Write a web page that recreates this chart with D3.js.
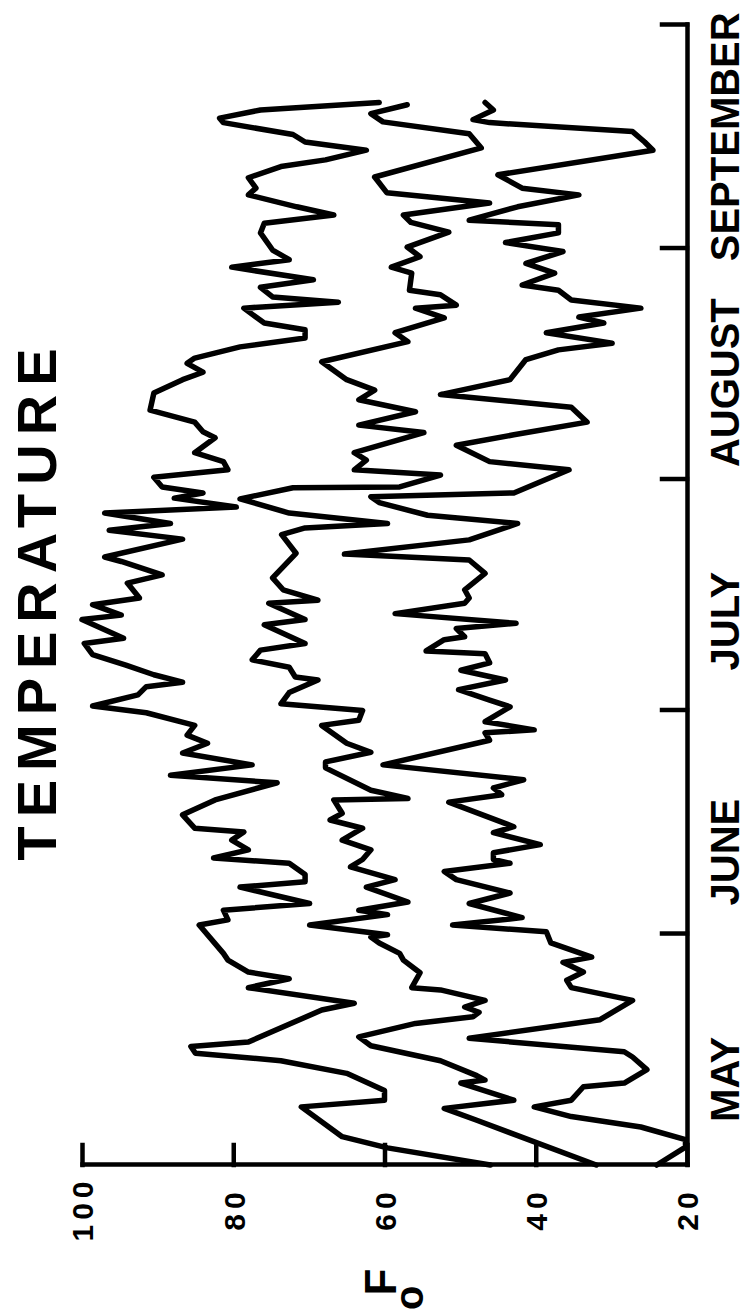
<!DOCTYPE html>
<html>
<head>
<meta charset="utf-8">
<script src="https://cdn.jsdelivr.net/npm/d3@7"></script>
<style>
body { margin: 0; background: #fff; }
text { font-family: "Liberation Sans", Arial, sans-serif; font-weight: bold; fill: #000; }
</style>
</head>
<body>
<div id="chart"></div>
<script>
// daily temperatures: [days since May 1, deg F]
var highTemps = [[0,46],[2.3,59.6],[3.8,65.6],[7.8,71],[8.7,60],[10,60],[12.3,65],[14,73.7],[15,85],[15.9,85.6],[16.5,78],[20.8,68.3],[21.7,64],[23.8,78],[25,72.6],[25.9,78],[27.5,80.7],[28.4,81.3],[32.2,84.5],[32.9,80.7],[34.2,81.3],[35.1,69.9],[37.3,79.1],[38,70.5],[39,70.5],[40.5,72.6],[41.2,82.6],[42.3,78],[43.6,80.2],[44.7,78.6],[45.2,85.1],[47,86.7],[49,82.4],[51.3,74.2],[52.3,88.3],[53.7,77.5],[55.3,86.7],[56.6,83.4],[57.7,86.1],[59,85.1],[60.7,91.5],[61.6,98.6],[63.1,92.6],[64.2,91.5],[64.8,86.7],[65.8,90.5],[67.1,94.2],[68.5,98.6],[70,99.7],[70.7,94.5],[73.2,100],[73.8,94.8],[75.2,98.6],[76.1,92.4],[78.1,94],[79.2,89.4],[81,94.8],[81.6,97],[84,86.7],[85.2,96.4],[86.1,88.3],[87.5,97],[88.3,79.6],[89.5,87.8],[90.2,84],[91,89.4],[92.3,90.5],[93.3,80.7],[94.4,81.3],[95.6,85.1],[97.6,82.4],[98.4,84],[99.7,85.1],[101.3,91],[103.6,90.5],[105.4,86.7],[106.4,84],[107.6,86.1],[108.3,85.1],[109.8,79.1],[111,70.5],[112.1,70.5],[113,75.9],[113.8,77],[115,78.6],[115.8,66.1],[116.5,74.8],[117.8,76.4],[118.8,69.4],[120.5,80.2],[121.5,72.6],[122.8,74.8],[125.1,76.4],[126.4,75.9],[127.5,66.7],[128.6,71.6],[130.2,78],[131.1,77],[132.5,78],[134,73.7],[134.9,67.8],[136.2,62.4],[137.3,70.5],[138.3,72.1],[139.9,81.3],[140.5,81.8],[141.6,76.4],[142.6,60.7]];

var meanTemps = [[0,32],[6,47.8],[7.6,52.1],[8.7,42.9],[11,49.9],[11.4,46.7],[12,47.8],[14,52.6],[16,61.8],[17.2,63.4],[19,55.9],[19.9,48.3],[20.5,47.5],[21.2,49.4],[22.1,46.7],[23.5,52.6],[23.8,56.4],[25.8,55.3],[27.5,57.5],[28.4,58],[29.8,60.7],[30.6,61.8],[30.9,59.6],[32.2,69.9],[33.6,59.6],[34.2,63.4],[35.3,56.9],[37.3,62.4],[38.3,58.6],[40,64.5],[41,62.9],[42.3,61.8],[43.6,65.6],[45.2,62.9],[46.3,67.2],[47.2,65.6],[49,66.7],[49.2,56.9],[50.3,61.8],[53.3,67.8],[54.1,67.8],[55.4,61.8],[56.6,65],[59,68.3],[59.7,63.4],[61,62.9],[61.9,73.7],[63.4,72.6],[65.1,68.8],[65.5,71.8],[66.8,72.6],[67.8,77.5],[69.1,76.4],[70,70.5],[72.5,75.9],[73.2,70.5],[75.4,75.3],[75.8,68.8],[77.2,73.4],[78.8,74.8],[82.1,71.7],[84.6,73.6],[85.5,70.5],[86.1,59.6],[87.5,72.6],[89.4,79.1],[90.9,72.1],[91,58],[92.6,52.6],[93.3,64],[94.6,62.4],[95.6,64],[98.3,54.8],[99.3,63.4],[101.1,55.9],[102.7,63.4],[104,61.3],[105.4,65],[107.8,68.3],[110.5,56.9],[111.7,58.6],[113.7,52.1],[115,55.9],[115.4,50.5],[116.8,52.6],[117.4,56.7],[119.7,56.4],[120.5,59.1],[121.9,55.3],[123.2,57],[125.2,51.5],[126.5,56.5],[127.5,57.5],[129.1,46.1],[130.5,59.7],[132.6,61.3],[136.5,47.2],[138.4,48.8],[140,60.2],[141.1,61.8],[142.3,57]];

var lowTemps = [[0,24],[2.4,20.2],[3.4,20.2],[5.1,26.1],[6.5,35.3],[7.8,40.2],[8.7,35.3],[10.5,33.7],[11,28.3],[12.8,25.3],[14.5,27.2],[15.2,28.3],[17,48.8],[19.5,31.5],[22.1,27.2],[23.8,35.3],[24.8,35.9],[25.9,33.7],[27.2,36.4],[27.9,32.6],[29.8,38],[31.3,38.6],[32.2,51],[33.2,41.8],[35.1,48.8],[36.5,43.4],[38.3,50.5],[39.4,52.1],[40.5,43.4],[41,45.6],[41.9,45.6],[43,39.4],[44.6,45.6],[45.4,42.9],[48.7,51.5],[49.7,44.5],[50.6,45.6],[51.7,41.6],[53.7,60.2],[57,46.1],[58,46.7],[58.4,40.2],[59.5,46.7],[61.5,43.4],[62.4,46.1],[63.8,50.2],[65.1,44],[66.4,49.9],[67.4,46.1],[68.6,46.7],[69,54.5],[70.5,52.1],[70.9,49.4],[72,50.5],[72.7,42.6],[74,58.6],[75.4,49.4],[76.1,48.8],[77.2,49.4],[79.4,46.7],[81.2,48.8],[82,65.3],[83.9,48.8],[86.1,42.4],[87.2,54.3],[88.9,60.7],[89.7,61.8],[90.2,42.9],[93.3,35.6],[94.4,46.1],[96.6,50.5],[98,42.9],[99.7,33.2],[101.7,35.3],[103.4,52.6],[105.4,43.4],[108.1,41.3],[109.4,37],[110.3,29.9],[111.7,38.6],[113,31],[113.8,34.3],[115,26.1],[116.1,35.3],[117.4,37],[118.1,41.8],[119.7,37.5],[121,41.3],[122.6,36.4],[123.8,44],[125.1,37],[126.2,37],[126.8,48.8],[128.6,42.4],[130.2,34.3],[131.1,41.8],[132.9,45],[136.2,24.5],[137.3,25.6],[138.7,27.2],[139.9,46.1],[140.3,48.3],[141.6,45.6],[142.6,46.7]];

var months = ["MAY", "JUNE", "JULY", "AUGUST", "SEPTEMBER"];
var monthStarts = [0, 31, 61, 92, 123, 153];
// where each month name sits along the time axis (days since May 1)
var monthLabelDays = [11.5, 42, 73, 105, 138];
var tempTicks = [20, 40, 60, 80, 100];

// the figure is printed sideways: draw it landscape, then turn it a quarter
var width = 1315, height = 746;

var svg = d3.select("#chart")
            .append("svg")
            .attr("width", height)
            .attr("height", width);

var g = svg.append("g")
           .attr("transform", "translate(0," + width + ") rotate(-90)");

var x = d3.scaleLinear().domain([0, 153]).range([150, 1290]);
var y = d3.scaleLinear().domain([20, 100]).range([687, 82]);

// temperature axis
var yAxis = g.append("g")
    .attr("transform", "translate(" + x(0) + ",0)")
    .call(d3.axisLeft(y).tickValues(tempTicks).tickSize(-20).tickSizeOuter(0).tickPadding(44));
yAxis.attr("font-size", null).attr("font-family", null);
yAxis.selectAll("text")
     .attr("text-anchor", "middle")
     .attr("font-size", 30)
     .attr("letter-spacing", 5)
     .attr("dy", "0.36em");

// time axis
var xAxis = g.append("g")
    .attr("transform", "translate(0," + y(20) + ")")
    .call(d3.axisBottom(x).tickValues(monthStarts.slice(1)).tickSize(-25).tickSizeOuter(0).tickFormat(""));

g.selectAll(".domain, .tick line")
 .attr("stroke", "#000")
 .attr("stroke-width", 4.5)
 .attr("stroke-linecap", "square");

g.selectAll(".month")
 .data(months)
 .enter().append("text")
 .attr("class", "month")
 .attr("x", function(d, i) { return x(monthLabelDays[i]); })
 .attr("y", 739)
 .attr("text-anchor", "middle")
 .attr("font-size", 40)
 .text(function(d) { return d; });

// title
g.append("text")
 .attr("x", 715)
 .attr("y", 56)
 .attr("text-anchor", "middle")
 .attr("font-size", 56)
 .attr("letter-spacing", 9)
 .text("TEMPERATURE");

// unit label, degree mark sits low in front of the F
var unit = g.append("text")
 .attr("x", 5)
 .attr("y", 396)
 .attr("font-size", 40);
unit.append("tspan").attr("dy", 27).text("o");
unit.append("tspan").attr("dx", -10).attr("dy", -27).attr("font-size", 44).text("F");

var line = d3.line()
    .x(function(d) { return x(d[0]); })
    .y(function(d) { return y(d[1]); });

[highTemps, meanTemps, lowTemps].forEach(function(series) {
    g.append("path")
     .datum(series)
     .attr("fill", "none")
     .attr("stroke", "#000")
     .attr("stroke-width", 5.5)
     .attr("stroke-linejoin", "round")
     .attr("stroke-linecap", "round")
     .attr("d", line);
});
</script>
</body>
</html>
